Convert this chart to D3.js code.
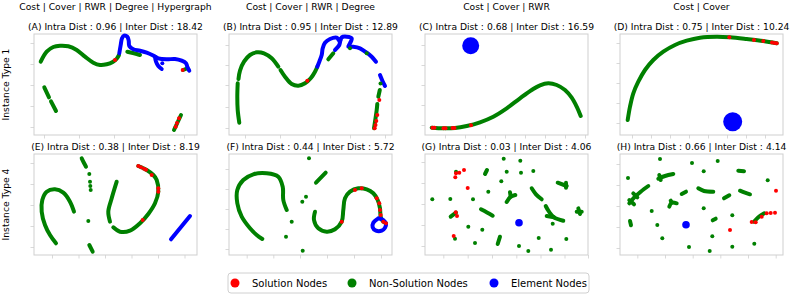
<!DOCTYPE html>
<html>
<head>
<meta charset="utf-8">
<script src="https://cdn.jsdelivr.net/npm/d3@7"></script>
<style>
  body { margin: 0; background: #fff; }
  text { font-family: "DejaVu Sans", sans-serif; fill: #000; }
</style>
</head>
<body>
<div id="chart"></div>
<script>
// headers
const colTitles = ["Cost | Cover | RWR | Degree | Hypergraph", "Cost | Cover | RWR | Degree", "Cost | Cover | RWR", "Cost | Cover"];
const rowTitles = ["Instance Type 1", "Instance Type 4"];
const panelLetters = ["A", "B", "C", "D", "E", "F", "G", "H"];
const intraDist = [0.96, 0.95, 0.68, 0.75, 0.38, 0.44, 0.03, 0.66];
const interDist = [18.42, 12.89, 16.59, 10.24, 8.19, 5.72, 4.06, 4.14];
const legendLabels = ["Solution Nodes", "Non-Solution Nodes", "Element Nodes"];

// embedding coords (x 0..163, y 0..101)
// runs = chains of touching points, dots = single points, blobs = [x, y, radius]
const aGreenRuns = [
  [[6.7,73.3],[12.7,83.3],[19.3,88],[26,89.3],[34.3,88.7],[42.7,85],[51,78.3],[59.3,72.3],[66,70],[72.7,70.7],[78.7,73],[82.7,76.3],[85,80]],
  [[93.3,83.3],[99,82],[106,80]],
  [[10.3,47.7],[15,37.7]], [[17,33.7],[22,24]],
  [[147,20],[140,5]],
  [[149,65],[153,66.5]]
];
const aBlueRuns = [
  [[85.3,81.7],[86.7,90],[88,96.7],[90,99.3],[93.3,98.3],[94.7,94.3],[95.3,89],[99.3,85.7],[106,84.3],[112.7,82.3],[118.7,79.7],[124.3,76.7],[132.7,75.7],[141,76],[147.7,74.3],[152,71.7],[153.3,68.3],[155.3,64.3]],
  [[121,78.3],[122,73.3],[124.3,69],[127.7,66]]
];
const aGreenDots = [];
const aBlueDots = [[128.3,71.7]];
const aRedDots = [[81,75],[148.7,65],[145,16.7],[143,12],[141.7,8.3]];
const aBlobs = [];

const bGreenRuns = [
  [[10.3,12.3],[8.7,25],[8.3,38.3],[8.7,51.7]],
  [[9.5,56],[11,64.3],[15,73.3],[21,80],[27.7,82.7],[35,81.7],[42.7,76.7],[49.3,68.3]],
  [[51.5,65],[56,58.3],[62.7,51],[69.3,49.3],[76,51.7],[81.7,56.7],[86,63.3],[88.3,68.3]],
  [[104.3,81.7],[99.3,75.7]],
  [[150.8,45],[149.3,38.3]],
  [[148.3,31],[147.7,25],[145,6.7]]
];
const bBlueRuns = [
  [[88.3,68.3],[90.3,73.3],[92.7,80],[93.7,86.7],[96,92.3],[101,96],[107.7,97.3],[111,93.3],[112.7,97.7],[117.7,98.3],[122.7,96.7],[121,91.7],[119.3,88.3],[124.3,88.3],[131,86.7],[137.7,82.3],[142.7,78.3],[147,73.3]],
  [[111,93.3],[110.3,90],[106,85]],
  [[151,60],[153.5,54],[156,49]]
];
const bGreenDots = [[121,86.7],[137.7,81.7],[151.5,51.5]];
const bBlueDots = [];
const bRedDots = [[78.3,54.3],[150.3,35],[148.3,20],[147.3,14],[146.5,10],[145.7,6.7]];
const bBlobs = [];

const cGreenRuns = [
  [[6.7,7.3],[18.3,6.7],[30,7],[41.7,9],[55,12.7],[68.3,18.3],[81.7,26.7],[95,36.7],[106.7,45],[115,49.7],[123.3,51.7],[131.7,50],[140,45],[146.7,37.3],[151.7,28.3],[155.7,19]]
];
const cBlueRuns = [];
const cGreenDots = [];
const cBlueDots = [];
const cRedDots = [[7.5,7.3],[9.5,7.2],[18.5,6.8],[20.5,6.8],[27.5,6.9],[29.5,7],[46,9.8]];
const cBlobs = [[45.7,89.3,8.5]];

const dGreenRuns = [
  [[7.7,15],[10,28.3],[13.3,41.7],[18.3,53.3],[25,65],[33.3,75],[43.3,83.3],[55,90],[66.7,94.3],[80,97.3],[96.7,98.3],[110,97.7],[126.7,96],[143.3,94],[156.7,91.7]]
];
const dBlueRuns = [];
const dGreenDots = [];
const dBlueDots = [];
const dRedDots = [[109.3,97.7],[134,95],[143.3,94],[152,92.5],[154.5,92.1],[156.7,91.7]];
const dBlobs = [[112.7,13.3,9.5]];

const eGreenRuns = [
  [[40,43.3],[36,53.3],[29.3,62.3],[21,65.7],[12.7,63.3],[8.3,55],[7.7,43.3],[11,30],[16,20],[22,11.7]],
  [[47.7,96.7],[50,92],[52,88.3]],
  [[55.3,10],[58.7,3.3]],
  [[82.7,73.3],[77.7,56.7],[74.3,43.3],[76,33.3]],
  [[79.3,27.7],[86,23.3],[96,24.3],[106,31.7],[114.3,41],[121,51.7],[124.3,63.3],[122.7,75],[119.3,80],[112.7,85],[104.3,89]]
];
const eBlueRuns = [[[137,15.7],[156,39]]];
const eGreenDots = [[55.3,81],[56,73.3],[56.3,69],[56.7,65],[54.3,34]];
const eBlueDots = [];
const eRedDots = [[104.3,89],[107,87.8],[110,86.3],[112,85.3],[117.7,80],[124.3,66.7],[124.3,63.3],[108.7,35]];
const eBlobs = [];

const fGreenRuns = [
  [[57.7,45],[54.3,55],[53.7,68.3],[49.3,78.3],[37.7,81.7],[24.3,80.7],[14.3,75],[8.3,65],[8.3,51.7],[12.7,38.3],[21,26.7],[27.7,20],[33.3,16]],
  [[87,72.3],[96.7,82.3]],
  [[86,43.3],[85,35],[89.3,26.7],[97.7,23.3],[106,25.7],[112.7,33.3],[114.3,45],[116,56.7],[121,63.3],[129.3,66.7],[137.7,65.7],[144.3,61.7],[148.7,55],[151,46.7],[151.7,38.3],[154.3,33.3],[157,31.7]]
];
const fBlueRuns = [
  [[149.3,36.7],[154.3,35],[157,31],[156,27.3],[152.7,24.3],[147,24.3],[143.7,27.7],[144.3,32.3],[149.3,36.7]]
];
const fGreenDots = [[80,96.7],[62.7,33.3],[57,18.3],[73.7,4.3],[77,58.3],[73.3,53.3]];
const fBlueDots = [];
const fRedDots = [[112.7,33.3],[126,65],[132.7,66.7],[147.7,56.7],[150.3,51.7],[151,45],[151.7,40],[154.3,33.3],[157,31.7]];
const fBlobs = [];

const gGreenRuns = [
  [[60,81],[62,85]],
  [[25.7,38.3],[31,42.3]],
  [[56,45.7],[62,42.5],[67.7,39.3]],
  [[75,18.3],[72.7,11]],
  [[81.7,53],[85.7,58.3],[90.3,60]],
  [[85.7,58.3],[85,62.7]],
  [[106.7,66.7],[111,60.7],[116.7,55.7]],
  [[132.7,72.3],[141.7,69]],
  [[141,72.3],[141,67.3]],
  [[120.7,49],[124,43.3],[129,37.7],[138.3,34.3]],
  [[121.7,39],[129,37.7]],
  [[153.3,46.7],[155,41]],
  [[151.7,43.3],[156.7,43.3]]
];
const gBlueRuns = [];
const gGreenDots = [[78.7,96.3],[95.3,94.3],[81.7,83.3],[96,82.3],[108.3,84],[76.3,73.7],[63.3,63.3],[7.3,55.7],[25.3,56],[48,55.7],[43.3,28.3],[57.3,25.3],[50,12],[94,9],[103.3,4],[126,5.3],[113.7,17],[141.3,16],[127.7,31.3],[31,83.3],[30,16.3]];
const gBlueDots = [];
const gRedDots = [[39,85],[31,81.7],[34.3,82.3],[30.3,77.7],[42.7,67],[30.7,42.7],[32,39],[28.7,19]];
const gBlobs = [[94,32.3,3.8]];

const hGreenRuns = [
  [[118.3,84.3],[124,83.7]],
  [[38.3,76.3],[45,79],[53.3,81]],
  [[39.3,80],[40.7,75]],
  [[9.3,51.7],[15,58.3],[20.7,63.3],[28.3,69]],
  [[9.3,55],[14,50.7]],
  [[13.3,61.7],[17.3,57.7]],
  [[10,34],[11,29.7]],
  [[49.3,48.3],[51.7,52.3],[56.7,51.7]],
  [[51.7,52.3],[50.7,54.3]],
  [[61.7,61],[66,63.3]],
  [[78.3,66.7],[84,64],[93.3,63.3]],
  [[104,56.7],[109.3,59.7]],
  [[120,64.3],[125,62.3],[130,60.7]],
  [[92.7,34.7],[95.7,36.3]],
  [[134,33.3],[138.3,37.7],[144.3,41.7]]
];
const hBlueRuns = [];
const hGreenDots = [[40,96],[72,92],[97.7,94],[83.7,83.7],[8,77],[147.7,74.7],[31.7,44],[83.7,46.7],[112.3,39.7],[37.3,30],[42.3,16.7],[92.3,18.7],[69,8],[89.7,4],[112.3,8.3],[134.3,11.3]];
const hBlueDots = [];
const hRedDots = [[156,64.3],[110,25],[141.7,38.3],[146.7,41.7],[150.7,42],[155,42.3],[131.7,33],[135.7,32.7]];
const hBlobs = [[66,30.3,3.8]];

// tick positions (no labels)
const xTicks = [
  [10,45,80,115,150], [16,51,86,121,156], [20,40,60,80,100,120,140,160], [12,31,50,69,88,107,126,145],
  [18,44.5,71,97.5,124,150.5], [17.7,44.3,71,98,125,152], [18.3,42.7,67,91.3,115.5,139.5,163], [17.3,45,72.7,100.3,128,155.7]
];
const yTicks = [
  [8,29,50,71,92], [7,28,50,70,90], [10,30,50,70,90], [12,32,52,72,92],
  [8,29,50,71,92], [6,26,46,66,86], [9,30,51,72,93], [7,28,49,70,91]
];

const panels = [
  {green: aGreenRuns, blue: aBlueRuns, gDots: aGreenDots, bDots: aBlueDots, red: aRedDots, blobs: aBlobs},
  {green: bGreenRuns, blue: bBlueRuns, gDots: bGreenDots, bDots: bBlueDots, red: bRedDots, blobs: bBlobs},
  {green: cGreenRuns, blue: cBlueRuns, gDots: cGreenDots, bDots: cBlueDots, red: cRedDots, blobs: cBlobs},
  {green: dGreenRuns, blue: dBlueRuns, gDots: dGreenDots, bDots: dBlueDots, red: dRedDots, blobs: dBlobs},
  {green: eGreenRuns, blue: eBlueRuns, gDots: eGreenDots, bDots: eBlueDots, red: eRedDots, blobs: eBlobs},
  {green: fGreenRuns, blue: fBlueRuns, gDots: fGreenDots, bDots: fBlueDots, red: fRedDots, blobs: fBlobs},
  {green: gGreenRuns, blue: gBlueRuns, gDots: gGreenDots, bDots: gBlueDots, red: gRedDots, blobs: gBlobs},
  {green: hGreenRuns, blue: hBlueRuns, gDots: hGreenDots, bDots: hBlueDots, red: hRedDots, blobs: hBlobs}
];

const colors = {red: "#ff0000", green: "#008000", blue: "#0000ff"};
const W = 793, H = 295;
const colX = [34, 229, 425, 620];
const rowY = [34, 154];
const pw = 163, ph = 101;
const dotR = 2;

const svg = d3.select("#chart").append("svg")
    .attr("width", W)
    .attr("height", H);

// column titles
svg.selectAll(".col-title")
    .data(colTitles)
    .enter().append("text")
    .attr("class", "col-title")
    .attr("x", (d, i) => colX[i] + pw / 2)
    .attr("y", 9.5)
    .attr("text-anchor", "middle")
    .style("font-size", "9.2px")
    .text(d => d);

// row titles
svg.selectAll(".row-title")
    .data(rowTitles)
    .enter().append("text")
    .attr("class", "row-title")
    .attr("transform", (d, i) => "translate(8.5," + (rowY[i] + ph / 2) + ") rotate(-90)")
    .attr("text-anchor", "middle")
    .style("font-size", "9.2px")
    .text(d => d);

panels.forEach(function(p, i) {
    let col = i % 4, row = Math.floor(i / 4);
    let g = svg.append("g")
        .attr("transform", "translate(" + colX[col] + "," + rowY[row] + ")");

    let x = d3.scaleLinear().domain([0, 163]).range([0, pw]);
    let y = d3.scaleLinear().domain([0, 101]).range([ph, 0]);

    let line = d3.line()
        .x(d => x(d[0]))
        .y(d => y(d[1]))
        .curve(d3.curveCatmullRom.alpha(0.5));

    // axes: ticks only
    let xAxis = g.append("g")
        .attr("transform", "translate(0," + ph + ")")
        .call(d3.axisBottom(x).tickValues(xTicks[i]).tickSize(3.5).tickFormat(""));
    let yAxis = g.append("g")
        .call(d3.axisLeft(y).tickValues(yTicks[i]).tickSize(3.5).tickFormat(""));
    [xAxis, yAxis].forEach(a => {
        a.select(".domain").remove();
        a.selectAll("line").attr("stroke", "#cfcfcf").attr("stroke-width", 0.8);
    });

    g.append("rect")
        .attr("width", pw)
        .attr("height", ph)
        .attr("fill", "none")
        .attr("stroke", "#cfcfcf")
        .attr("stroke-width", 1);

    // subtitle
    svg.append("text")
        .attr("x", colX[col] + pw / 2)
        .attr("y", rowY[row] - 3.8)
        .attr("text-anchor", "middle")
        .style("font-size", "9.2px")
        .text("(" + panelLetters[i] + ") Intra Dist : " + intraDist[i].toFixed(2) + " | Inter Dist : " + interDist[i].toFixed(2));

    let runs = p.green.map(r => ({pts: r, c: colors.green}))
        .concat(p.blue.map(r => ({pts: r, c: colors.blue})));

    g.selectAll(".run")
        .data(runs)
        .enter().append("path")
        .attr("class", "run")
        .attr("d", d => line(d.pts))
        .attr("fill", "none")
        .attr("stroke", d => d.c)
        .attr("stroke-width", dotR * 2)
        .attr("stroke-linecap", "round")
        .attr("stroke-linejoin", "round");

    g.selectAll(".blob")
        .data(p.blobs)
        .enter().append("circle")
        .attr("class", "blob")
        .attr("cx", d => x(d[0]))
        .attr("cy", d => y(d[1]))
        .attr("r", d => x(d[2]) - x(0))
        .attr("fill", colors.blue);

    let dots = p.gDots.map(d => ({pt: d, c: colors.green}))
        .concat(p.bDots.map(d => ({pt: d, c: colors.blue})))
        .concat(p.red.map(d => ({pt: d, c: colors.red})));

    g.selectAll(".dot")
        .data(dots)
        .enter().append("circle")
        .attr("class", "dot")
        .attr("cx", d => x(d.pt[0]))
        .attr("cy", d => y(d.pt[1]))
        .attr("r", dotR)
        .attr("fill", d => d.c);
});

// legend
let legend = svg.append("g").attr("transform", "translate(228,273)");
legend.append("rect")
    .attr("width", 361)
    .attr("height", 20)
    .attr("rx", 3)
    .attr("fill", "#fff")
    .attr("stroke", "#d0d0d0");

const legendX = [7, 124, 266];
const legendColors = [colors.red, colors.green, colors.blue];
legendLabels.forEach(function(lbl, i) {
    legend.append("circle")
        .attr("cx", legendX[i])
        .attr("cy", 10)
        .attr("r", 4.5)
        .attr("fill", legendColors[i]);
    legend.append("text")
        .attr("x", legendX[i] + 17)
        .attr("y", 13.6)
        .style("font-size", "10px")
        .text(lbl);
});
</script>
</body>
</html>
